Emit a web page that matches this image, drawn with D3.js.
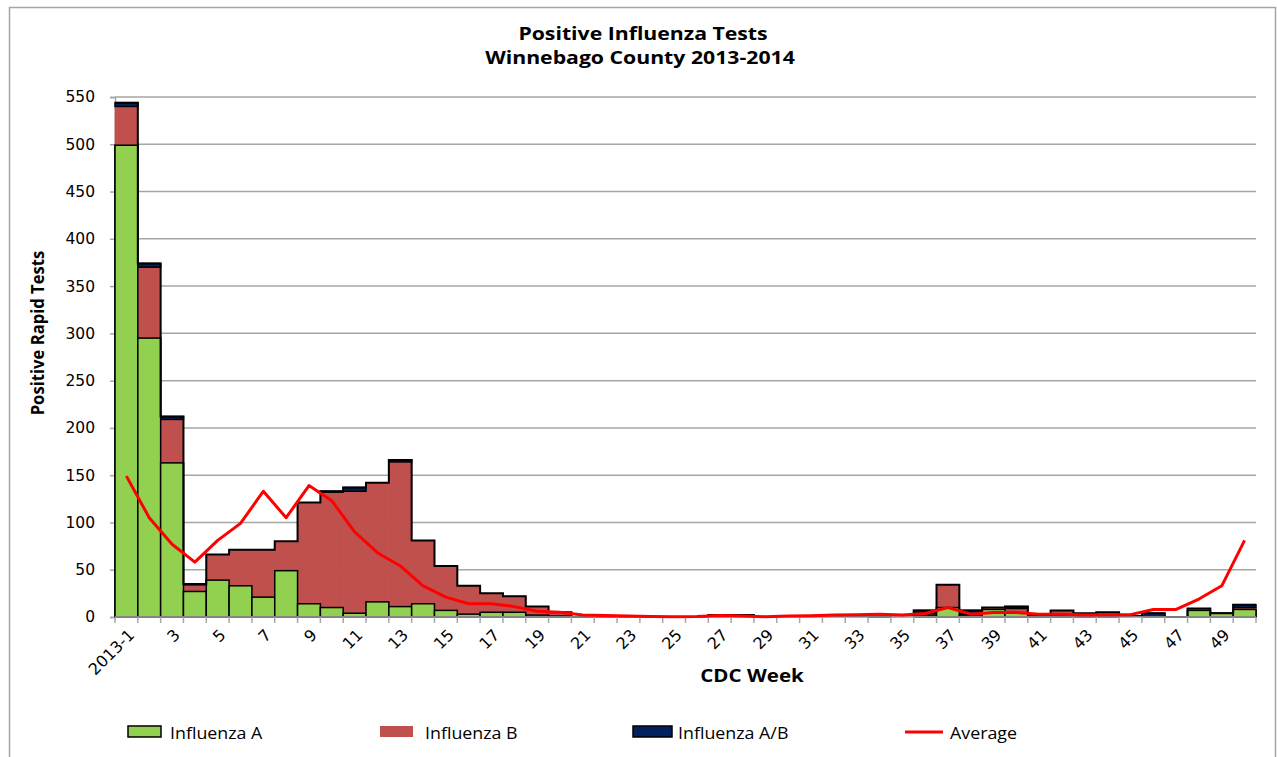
<!DOCTYPE html>
<html>
<head>
<meta charset="utf-8">
<script src="https://cdn.jsdelivr.net/npm/d3@7"></script>
<style>
  body { margin: 0; background: #fff; }
  .tick text { font-family: "DejaVu Sans", Verdana, sans-serif; }
</style>
</head>
<body>
<script>
// CDC weeks, only the odd ones get a label on the axis
const weekLabels = ["2013-1","2","3","4","5","6","7","8","9","10",
  "11","12","13","14","15","16","17","18","19","20",
  "21","22","23","24","25","26","27","28","29","30",
  "31","32","33","34","35","36","37","38","39","40",
  "41","42","43","44","45","46","47","48","49","50"];

const fluA = [499,295,163,27,39,33,21,49,14,10,
  4,16,11,14,7,3,5,5,2,1,
  0,0,0,0,0,0,0,0,0,0,
  0,0,0,0,0,2,10,2,8,4,
  1,1,1,1,0,0,0,7,4,8];

const fluB = [41,75,46,7,27,38,50,31,107,122,
  129,126,153,67,47,30,20,17,9,4,
  0,0,0,0,0,0,2,1,0,1,
  1,1,1,0,2,2,24,1,2,5,
  2,6,3,4,1,0,0,2,0,2];

const fluAB = [4,4,3,1,0,0,0,0,0,1,
  4,0,2,0,0,0,0,0,0,0,
  0,0,0,0,0,0,0,1,0,0,
  0,0,0,0,0,3,0,4,0,2,
  0,0,0,0,0,4,0,0,0,3];

const average = [149,105,77,58,81,99,133,105,139,123,
  90,68,54,33,21,14,14,11,6,5,
  2,1.5,1,0.5,0.3,0.5,1.5,1,0.3,1,
  1.4,2,2.5,3,2,3.7,10,3,4.7,4.7,
  3,3,2,2.5,2.5,8,8,19,33,81];

const yTickValues = [0,50,100,150,200,250,300,350,400,450,500,550];

const seriesNames = ["Influenza A","Influenza B","Influenza A/B"];
const seriesColors = ["#92D050","#C0504D","#002060"];

var W = 1277, H = 757;
var plotLeft = 115, plotRight = 1256, plotTop = 97, plotBottom = 617;

var svg = d3.select("body").append("svg")
  .attr("width", W)
  .attr("height", H);

// outer chart frame
svg.append("rect")
  .attr("x", 9.5).attr("y", 7.5)
  .attr("width", 1266).attr("height", 770)
  .attr("fill", "none")
  .attr("stroke", "#a6a6a6")
  .attr("stroke-width", 1.5);

var x = d3.scaleBand()
  .domain(weekLabels)
  .range([plotLeft, plotRight])
  .padding(0);

var y = d3.scaleLinear()
  .domain([0, 550])
  .range([plotBottom, plotTop]);

// gridlines
svg.append("g").selectAll("line")
  .data(yTickValues.filter(d => d > 0))
  .enter().append("line")
  .attr("x1", plotLeft).attr("x2", plotRight)
  .attr("y1", d => y(d)).attr("y2", d => y(d))
  .attr("stroke", "#a6a6a6")
  .attr("stroke-width", 1.5);

// y axis
var yAxis = svg.append("g")
  .attr("transform", `translate(${plotLeft},0)`)
  .call(d3.axisLeft(y).tickValues(yTickValues).tickSize(5).tickPadding(15));
yAxis.select(".domain").attr("stroke", "#a6a6a6").attr("stroke-width", 1.5);
yAxis.selectAll(".tick line").attr("stroke", "#a6a6a6").attr("stroke-width", 1.5);
yAxis.selectAll(".tick text").attr("font-size", "15.5px").attr("fill", "#000");

// stacked bars
var table = weekLabels.map((w, i) => ({week: w, A: fluA[i], B: fluB[i], AB: fluAB[i]}));
var stacked = d3.stack().keys(["A","B","AB"])(table);

// B has no border of its own, a thin stroke in its own colour hides the seams
var layers = svg.append("g").selectAll("g")
  .data(stacked)
  .enter().append("g")
  .attr("fill", (d, i) => seriesColors[i])
  .attr("stroke", (d, i) => i == 1 ? seriesColors[1] : "#000")
  .attr("stroke-width", (d, i) => i == 1 ? 0.8 : 1.5);

layers.selectAll("rect")
  .data(d => d)
  .enter().append("rect")
  .attr("x", d => x(d.data.week))
  .attr("width", x.bandwidth())
  .attr("y", d => y(d[1]))
  .attr("height", d => y(d[0]) - y(d[1]));

// green drawn again on top so its black edges stay visible
svg.append("g")
  .attr("fill", seriesColors[0])
  .attr("stroke", "#000")
  .attr("stroke-width", 1.5)
  .selectAll("rect")
  .data(stacked[0])
  .enter().append("rect")
  .attr("x", d => x(d.data.week))
  .attr("width", x.bandwidth())
  .attr("y", d => y(d[1]))
  .attr("height", d => y(d[0]) - y(d[1]));

// step outline round the top of the stacks
var totals = table.map(d => d.A + d.B + d.AB);
var outline = d3.path();
totals.forEach(function(t, i) {
  var x0 = x(weekLabels[i]), x1 = x0 + x.bandwidth();
  if (i == 0) outline.moveTo(x0, y(t));
  else outline.lineTo(x0, y(t));
  outline.lineTo(x1, y(t));
});
svg.append("path")
  .attr("d", outline.toString())
  .attr("fill", "none")
  .attr("stroke", "#000")
  .attr("stroke-width", 2);

// x axis line and ticks between categories
svg.append("line")
  .attr("x1", plotLeft).attr("x2", plotRight)
  .attr("y1", plotBottom).attr("y2", plotBottom)
  .attr("stroke", "#a6a6a6").attr("stroke-width", 1.5);

var bounds = weekLabels.map(w => x(w)).concat([plotRight]);
svg.append("g").selectAll("line")
  .data(bounds)
  .enter().append("line")
  .attr("x1", d => d).attr("x2", d => d)
  .attr("y1", plotBottom).attr("y2", plotBottom + 6)
  .attr("stroke", "#a6a6a6").attr("stroke-width", 1.5);

svg.append("g").selectAll("text")
  .data(weekLabels.filter((w, i) => i % 2 == 0))
  .enter().append("text")
  .attr("transform", d => `translate(${x(d) + x.bandwidth() / 2 + 5},${plotBottom + 15}) rotate(-45)`)
  .attr("text-anchor", "end")
  .attr("dy", "0.35em")
  .attr("font-family", "DejaVu Sans, Verdana, sans-serif")
  .attr("font-size", "16px")
  .text(d => d);

// average line
var line = d3.line()
  .x((d, i) => x(weekLabels[i]) + x.bandwidth() / 2)
  .y(d => y(d));
svg.append("path")
  .datum(average)
  .attr("d", line)
  .attr("fill", "none")
  .attr("stroke", "#FF0000")
  .attr("stroke-width", 3)
  .attr("stroke-linejoin", "round");

// titles (the reference type is a little wider than Open Sans, hence the x stretch)
var titleFont = "'Open Sans', sans-serif";
svg.append("text")
  .attr("transform", "translate(643,40) scale(1.18,1)")
  .attr("text-anchor", "middle")
  .attr("font-family", titleFont).attr("font-weight", "bold").attr("font-size", "18px")
  .text("Positive Influenza Tests");
svg.append("text")
  .attr("transform", "translate(640,64) scale(1.18,1)")
  .attr("text-anchor", "middle")
  .attr("font-family", titleFont).attr("font-weight", "bold").attr("font-size", "18px")
  .text("Winnebago County 2013-2014");

svg.append("text")
  .attr("transform", "translate(44,333) rotate(-90) scale(1.04,1.15)")
  .attr("text-anchor", "middle")
  .attr("font-family", titleFont).attr("font-weight", "bold").attr("font-size", "16px")
  .text("Positive Rapid Tests");

svg.append("text")
  .attr("transform", "translate(752,682) scale(1.14,1)")
  .attr("text-anchor", "middle")
  .attr("font-family", titleFont).attr("font-weight", "bold").attr("font-size", "18px")
  .text("CDC Week");

// legend
var legendX = [128, 380, 633, 905];
var legendItems = seriesNames.concat(["Average"]);
var legend = svg.append("g").selectAll("g")
  .data(legendItems)
  .enter().append("g")
  .attr("transform", (d, i) => `translate(${legendX[i]},0)`);

legend.filter((d, i) => i < 3).append("rect")
  .attr("x", 0).attr("y", 726)
  .attr("width", (d, i) => i == 2 ? 39 : 33)
  .attr("height", 11)
  .attr("fill", (d, i) => seriesColors[i])
  .attr("stroke", (d, i) => i == 1 ? "none" : "#000")
  .attr("stroke-width", 1.5);

legend.filter((d, i) => i == 3).append("line")
  .attr("x1", 0).attr("x2", 38)
  .attr("y1", 732).attr("y2", 732)
  .attr("stroke", "#FF0000").attr("stroke-width", 3);

legend.append("text")
  .attr("transform", (d, i) => `translate(${[42, 45, 45, 45][i]},739) scale(1.15,1)`)
  .attr("font-family", "'Open Sans', sans-serif")
  .attr("font-size", "15.5px")
  .text(d => d);
</script>
</body>
</html>
